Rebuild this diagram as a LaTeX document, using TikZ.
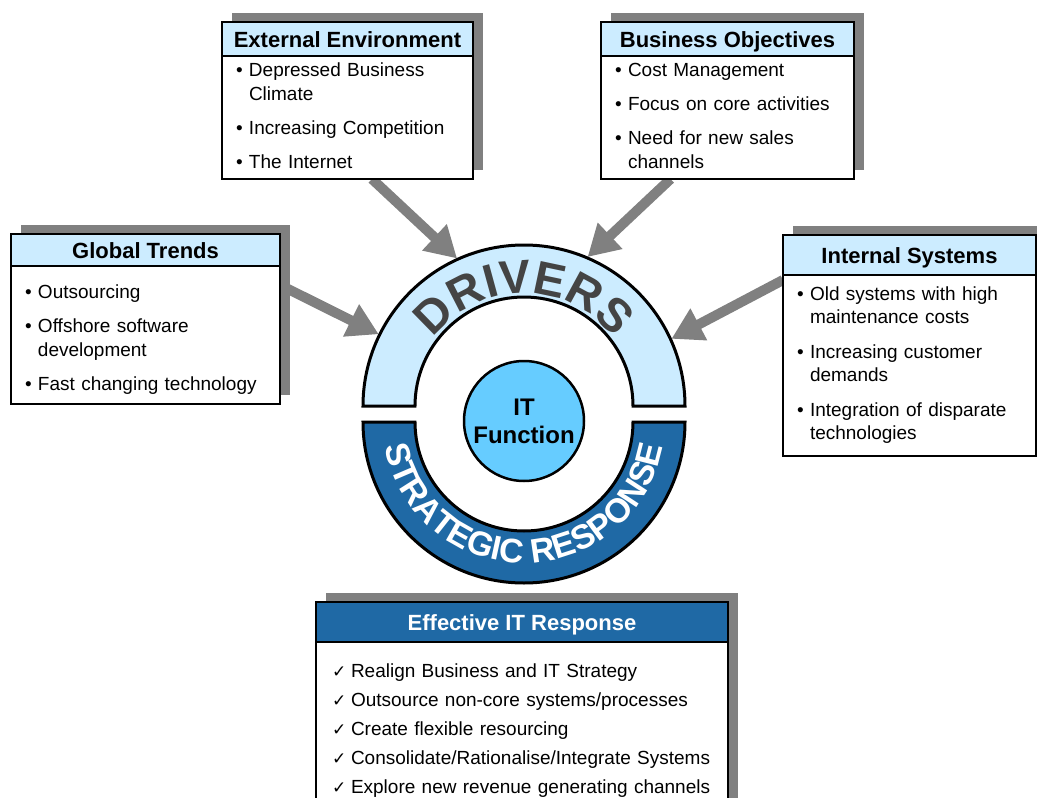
\documentclass[tikz,border=0pt]{standalone}
\usepackage{fontspec}
\setmainfont{Liberation Sans}
\newfontfamily\chkfont{DejaVu Sans}
\usepackage{tikz}
\usetikzlibrary{arrows.meta,positioning,backgrounds,decorations.text}
\definecolor{headblue}{RGB}{204,236,255}
\definecolor{itblue}{RGB}{102,204,255}
\definecolor{respblue}{RGB}{31,105,165}
\definecolor{shadegray}{RGB}{128,128,128}
\definecolor{drvgray}{RGB}{68,68,68}
\newcommand{\blist}[1]{\begin{tabular}{@{}p{13pt}@{}l@{}}#1\end{tabular}}
\newcommand{\clist}[1]{\begin{tabular}{@{}p{19pt}@{}l@{}}#1\end{tabular}}
\newcommand{\chk}{{\chkfont\fontsize{17}{17}\selectfont ✓}}

\begin{document}
\begin{tikzpicture}[x=1pt,y=1pt,node distance=0pt,
  head/.style={draw,line width=1.2pt,outer sep=0pt,inner sep=0pt,fill=headblue,text height=16pt,text depth=0pt,
    font=\fontsize{22}{26}\selectfont\bfseries},
  body/.style={draw,line width=1.2pt,outer sep=0pt,inner xsep=14pt,inner ysep=0pt,fill=white,align=left,
    font=\fontsize{19}{24}\selectfont},
  band/.style={draw,line width=3pt},
  feed/.style={draw=shadegray,line width=10pt,-{Triangle[length=31pt,width=34pt]}},
  shade/.style={fill=shadegray}]
  \useasboundingbox (0,0) rectangle (1037,-798);
  \clip (0,0) rectangle (1037,-798);

  % driver boxes
  \node[head,minimum width=251pt,minimum height=34pt,anchor=north west] (ext) at (222,-22) {External Environment};
  \node[body,text width=223pt,minimum height=123pt,below=of ext] (extbody)
    {\blist{\textbullet & Depressed Business\\ & Climate\\[10pt] \textbullet & Increasing Competition\\[10pt] \textbullet & The Internet}};
  \node[head,minimum width=253pt,minimum height=34pt,anchor=north west] (obj) at (601,-22) {Business Objectives};
  \node[body,text width=225pt,minimum height=123pt,below=of obj] (objbody)
    {\blist{\textbullet & Cost Management\\[10pt] \textbullet & Focus on core activities\\[10pt] \textbullet & Need for new sales\\ & channels}};
  \node[head,minimum width=269pt,minimum height=32pt,anchor=north west] (glob) at (11,-234) {Global Trends};
  \node[body,text width=241pt,minimum height=138pt,below=of glob] (globbody)
    {\raisebox{-5pt}[\height][\depth]{\blist{\textbullet & Outsourcing\\[10pt] \textbullet & Offshore software\\ & development\\[10pt]
      \textbullet & Fast changing technology}}};
  \node[head,minimum width=253pt,minimum height=40pt,anchor=north west] (int) at (783,-235) {Internal Systems};
  \node[body,text width=225pt,minimum height=181pt,below=of int,font=\fontsize{19}{23}\selectfont] (intbody)
    {\blist{\textbullet & Old systems with high\\ & maintenance costs\\[12pt] \textbullet & Increasing customer\\ & demands\\[12pt]
      \textbullet & Integration of disparate\\ & technologies}};

  % response box
  \node[head,fill=respblue,text=white,minimum width=412pt,minimum height=40pt,anchor=north west] (resp) at (316,-602) {Effective IT Response};
  \node[body,inner xsep=16pt,text width=380pt,minimum height=175pt,below=of resp,font=\fontsize{19}{29}\selectfont] (respbody)
    {\clist{\chk & Realign Business and IT Strategy\\ \chk & Outsource non-core systems/processes\\ \chk & Create flexible resourcing\\
      \chk & Consolidate/Rationalise/Integrate Systems\\ \chk & Explore new revenue generating channels}};

  % ring
  \coordinate (drv) at (524,-406);
  \coordinate (rsp) at (524,-422);
  \coordinate (tipext) at ([shift={(114.4:162pt)}]drv);
  \coordinate (tipobj) at ([shift={(66.9:162pt)}]drv);
  \coordinate (tipglob) at ([shift={(153.7:162pt)}]drv);
  \coordinate (tipint) at ([shift={(24.5:162pt)}]drv);
  \draw[band,fill=headblue] ([shift={(0:161pt)}]drv) arc[start angle=0,end angle=180,radius=161pt]
    -- ([shift={(180:109pt)}]drv) arc[start angle=180,end angle=0,radius=109pt] -- cycle;
  \draw[band,fill=respblue] ([shift={(180:161pt)}]rsp) arc[start angle=180,end angle=360,radius=161pt]
    -- ([shift={(0:109pt)}]rsp) arc[start angle=360,end angle=180,radius=109pt] -- cycle;
  \path[decorate,decoration={text along path,text align=center,text color=drvgray,
    text={|\fontsize{47}{47}\selectfont\bfseries|DRIVERS}}]
    ([shift={(170:113pt)}]drv) arc[start angle=170,end angle=10,radius=113pt];
  \path[decorate,decoration={text along path,text align=center,text color=white,
    text={|\fontsize{34}{34}\selectfont\bfseries|STRATEGIC RESPONSE}}]
    ([shift={(186:141pt)}]rsp) arc[start angle=186,end angle=354,radius=141pt];
  \node[circle,draw,line width=2.5pt,fill=itblue,minimum size=120pt,align=center,
    font=\fontsize{24}{28}\selectfont\bfseries] (itf) at (524,-421) {IT\\Function};

  \begin{scope}[on background layer]
    \draw[feed] ([xshift=24.5pt]extbody.south) -- (tipext);
    \draw[feed] ([xshift=-57pt]objbody.south) -- (tipobj);
    \draw[feed] ([yshift=50pt]globbody.east) -- (tipglob);
    \draw[feed] ([yshift=-5pt]intbody.north west) -- (tipint);
    \fill[shade] ([shift={(10pt,9pt)}]ext.north west) rectangle ([shift={(10pt,9pt)}]extbody.south east);
    \fill[shade] ([shift={(10pt,9pt)}]obj.north west) rectangle ([shift={(10pt,9pt)}]objbody.south east);
    \fill[shade] ([shift={(10pt,9pt)}]glob.north west) rectangle ([shift={(10pt,9pt)}]globbody.south east);
    \fill[shade] ([shift={(10pt,9pt)}]int.north west) rectangle ([shift={(10pt,9pt)}]intbody.south east);
    \fill[shade] ([shift={(10pt,9pt)}]resp.north west) rectangle ([shift={(10pt,9pt)}]respbody.south east);
  \end{scope}
\end{tikzpicture}
\end{document}
